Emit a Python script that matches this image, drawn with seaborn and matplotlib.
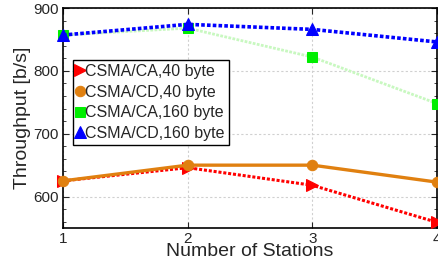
import numpy as np
import pandas as pd
import matplotlib
matplotlib.use("Agg")
import matplotlib.pyplot as plt
import seaborn as sns
from matplotlib.ticker import MultipleLocator

stations = [1, 2, 3, 4]
ca_40 = [625, 646, 618, 559]
cd_40 = [625, 650, 650, 623]
ca_160 = [857, 868, 822, 748]
cd_160 = [857, 874, 866, 846]
labels = ["CSMA/CA,40 byte", "CSMA/CD,40 byte", "CSMA/CA,160 byte", "CSMA/CD,160 byte"]

sns.set_style("ticks")
plt.rcParams["font.family"] = ["Liberation Sans", "DejaVu Sans"]

fig = plt.figure(figsize=(4.39, 2.67), dpi=100)
ax = fig.add_axes([0.1435, 0.146, 0.852, 0.824])

# (values, line colour, marker colour, linestyle, linewidth, marker, markersize)
styles = [
    (ca_40, "#ff0000", "#ff0000", (0, (1, 0.6)), 2.2, ">", 9),
    (cd_40, "#e08010", "#e08010", "-", 2.4, "o", 7.5),
    (ca_160, "#c8f8c0", "#00ee00", (0, (1, 0.5)), 2.0, "s", 6.5),
    (cd_160, "#0000ff", "#0000ff", (0, (1, 0.6)), 2.6, "^", 9),
]

for (vals, lc, mc, ls, lw, mk, ms), lab in zip(styles, labels):
    df = pd.DataFrame({"Stations": stations, "Throughput": vals})
    sns.lineplot(data=df, x="Stations", y="Throughput", ax=ax, color=lc,
                 linestyle=ls, linewidth=lw, marker=mk, markersize=ms,
                 markerfacecolor=mc, markeredgecolor=mc, label=lab,
                 clip_on=False, zorder=3)

ax.set_xlim(1, 4)
ax.set_ylim(550, 900)
ax.set_xticks(stations)
ax.set_yticks([600, 700, 800, 900])
ax.yaxis.set_minor_locator(MultipleLocator(20))
ax.tick_params(axis="both", which="both", direction="in", top=True, right=True,
               labelsize=11, pad=3)
ax.tick_params(which="major", length=4)
ax.tick_params(which="minor", length=2)
ax.grid(True, linestyle=(0, (2, 2)), color="#d0d0d0", linewidth=0.8)
for s in ax.spines.values():
    s.set_linewidth(1.2)
    s.set_color("black")

ax.set_xlabel("Number of Stations", fontsize=14, labelpad=-2)
ax.set_ylabel("Throughput [b/s]", fontsize=14, labelpad=2)

leg = ax.legend(loc="upper left", bbox_to_anchor=(0.027, 0.764), fontsize=11.5,
                frameon=True, fancybox=False, framealpha=1, edgecolor="black",
                handlelength=0.4, handletextpad=0.1, borderpad=0.25,
                labelspacing=0.35, borderaxespad=0)
leg.get_frame().set_linewidth(1.0)
for h in leg.get_lines():
    h.set_linestyle("None")

fig.savefig("out.png", dpi=100)
